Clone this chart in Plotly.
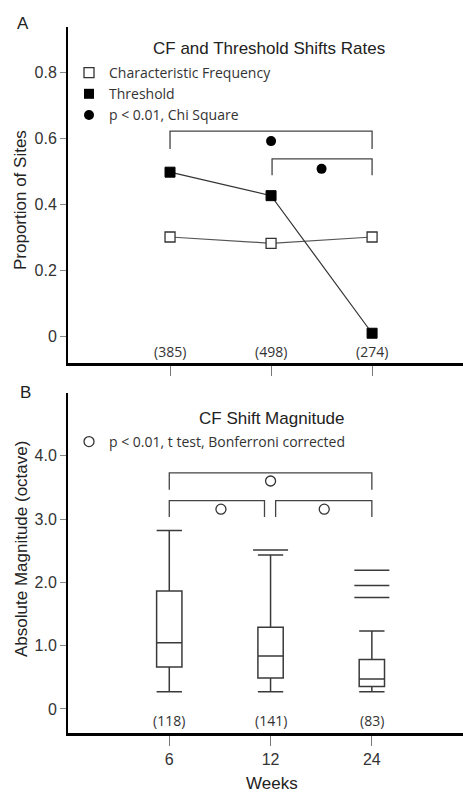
import plotly.graph_objects as go

# ---------------- data ----------------
weeks = ["6", "12", "24"]
xpos = [0, 1, 2]

# Panel A: proportion of sites
cf_rate = [0.302, 0.283, 0.302]
threshold_rate = [0.498, 0.427, 0.011]
counts_a = ["(385)", "(498)", "(274)"]

# significance brackets panel A: (x_left, x_right, y_top, y_leg_bottom)
brackets_a = [(0.0, 2.0, 0.622, 0.568), (1.01, 2.0, 0.538, 0.489)]
sig_dots_a_x = [1.0, 1.5]
sig_dots_a_y = [0.592, 0.508]

# Panel B: CF shift magnitude box stats
q1 = [0.663, 0.49, 0.353]
median = [1.047, 0.837, 0.474]
q3 = [1.864, 1.29, 0.78]
lowerfence = [0.273, 0.273, 0.273]
upperfence = [2.817, 2.43, 1.23]
outlier_x = [1, 2, 2, 2]
outlier_y = [2.51, 2.19, 1.95, 1.76]
counts_b = ["(118)", "(141)", "(83)"]

brackets_b = [(0.0, 2.0, 3.73, 3.46), (0.0, 0.94, 3.29, 3.03), (1.05, 2.0, 3.29, 3.03)]
sig_circ_b_x = [1.0, 0.51, 1.53]
sig_circ_b_y = [3.60, 3.155, 3.155]

# ---------------- styling ----------------
W, H = 463, 792
SANS = "Liberation Sans, Arial, sans-serif"
HUM = "Open Sans, sans-serif"
DARK = "#333333"

def py(p):
    return 1 - p / H

def px(p):
    return p / W

fig = go.Figure()

# ---- Panel A traces ----
fig.add_trace(go.Scatter(
    x=xpos, y=cf_rate, mode="lines+markers", xaxis="x", yaxis="y",
    line=dict(color="#555555", width=1.2),
    marker=dict(symbol="square", size=10, color="white", line=dict(color=DARK, width=1.3)),
    showlegend=False))
fig.add_trace(go.Scatter(
    x=xpos, y=threshold_rate, mode="lines+markers", xaxis="x", yaxis="y",
    line=dict(color="#333333", width=1.2),
    marker=dict(symbol="square", size=10, color="black", line=dict(color="black", width=1)),
    showlegend=False))

for (xl, xr, yt, yb) in brackets_a:
    fig.add_trace(go.Scatter(
        x=[xl, xl, xr, xr], y=[yb, yt, yt, yb], mode="lines", xaxis="x", yaxis="y",
        line=dict(color="#444444", width=1.3), showlegend=False, hoverinfo="skip"))
fig.add_trace(go.Scatter(
    x=sig_dots_a_x, y=sig_dots_a_y, mode="markers", xaxis="x", yaxis="y",
    marker=dict(symbol="circle", size=10, color="black"), showlegend=False))

# legend entries A
fig.add_trace(go.Scatter(x=[None], y=[None], mode="markers", xaxis="x", yaxis="y",
    name="Characteristic Frequency", legend="legend",
    marker=dict(symbol="square", size=10, color="white", line=dict(color=DARK, width=1.3))))
fig.add_trace(go.Scatter(x=[None], y=[None], mode="markers", xaxis="x", yaxis="y",
    name="Threshold", legend="legend",
    marker=dict(symbol="square", size=10, color="black")))
fig.add_trace(go.Scatter(x=[None], y=[None], mode="markers", xaxis="x", yaxis="y",
    name="p < 0.01, Chi Square", legend="legend",
    marker=dict(symbol="circle", size=10, color="black")))

# ---- Panel B traces ----
fig.add_trace(go.Box(
    x=xpos, q1=q1, median=median, q3=q3, lowerfence=lowerfence, upperfence=upperfence,
    xaxis="x2", yaxis="y2", width=0.25, whiskerwidth=1, fillcolor="white",
    line=dict(color="#3a3a3a", width=1.5), boxpoints=False, showlegend=False))
fig.add_trace(go.Scatter(
    x=outlier_x, y=outlier_y, mode="markers", xaxis="x2", yaxis="y2",
    marker=dict(symbol="line-ew", size=25, line=dict(color="#3a3a3a", width=1.5)),
    showlegend=False))

for (xl, xr, yt, yb) in brackets_b:
    fig.add_trace(go.Scatter(
        x=[xl, xl, xr, xr], y=[yb, yt, yt, yb], mode="lines", xaxis="x2", yaxis="y2",
        line=dict(color="#444444", width=1.3), showlegend=False, hoverinfo="skip"))
fig.add_trace(go.Scatter(
    x=sig_circ_b_x, y=sig_circ_b_y, mode="markers", xaxis="x2", yaxis="y2",
    marker=dict(symbol="circle-open", size=10, color="#333333", line=dict(width=1.3)),
    showlegend=False))

fig.add_trace(go.Scatter(x=[None], y=[None], mode="markers", xaxis="x2", yaxis="y2",
    name="p < 0.01, t test, Bonferroni corrected", legend="legend2",
    marker=dict(symbol="circle-open", size=10, color="#333333", line=dict(width=1.3))))

# ---------------- axes ----------------
axis_common = dict(showgrid=False, zeroline=False, showline=True, linecolor="black")

fig.update_layout(
    width=W, height=H, margin=dict(l=0, r=0, t=0, b=0),
    paper_bgcolor="white", plot_bgcolor="white",
    font=dict(family=SANS, color="#222222"),
    xaxis=dict(**axis_common, domain=[px(68), 1.0], range=[-1.01, 2.9], anchor="y",
               linewidth=2.5, tickvals=xpos, ticktext=weeks, showticklabels=False,
               ticks="outside", ticklen=10, tickcolor="#777777", tickwidth=1),
    yaxis=dict(**axis_common, domain=[py(363), py(27)], range=[-0.079, 0.937], anchor="x",
               linewidth=2, tickvals=[0, 0.2, 0.4, 0.6, 0.8],
               ticktext=["0", "0.2", "0.4", "0.6", "0.8"],
               ticks="outside", ticklen=6, tickcolor="#888888", tickwidth=1,
               tickfont=dict(family=SANS, size=16, color="#333333")),
    xaxis2=dict(**axis_common, domain=[px(68), 1.0], range=[-1.0, 2.9], anchor="y2",
                linewidth=2.5, tickvals=xpos, ticktext=weeks, showticklabels=True,
                ticks="outside", ticklen=10, tickcolor="#777777", tickwidth=1,
                tickfont=dict(family=SANS, size=16, color="#333333")),
    yaxis2=dict(**axis_common, domain=[py(733), py(393)], range=[-0.38, 4.99], anchor="x2",
                linewidth=2, tickvals=[0, 1, 2, 3, 4],
                ticktext=["0", "1.0", "2.0", "3.0", "4.0"],
                ticks="outside", ticklen=6, tickcolor="#888888", tickwidth=1,
                tickfont=dict(family=SANS, size=16, color="#333333")),
    legend=dict(x=px(69), y=py(57), xanchor="left", yanchor="top",
                bgcolor="rgba(0,0,0,0)", borderwidth=0, tracegroupgap=0,
                font=dict(family=HUM, size=14, color="#333333")),
    legend2=dict(x=px(69), y=py(426), xanchor="left", yanchor="top",
                 bgcolor="rgba(0,0,0,0)", borderwidth=0,
                 font=dict(family=HUM, size=14, color="#333333")),
)

def pa(text, x, y, size=17, angle=0, family=SANS):
    return dict(text=text, x=px(x), y=py(y), xref="paper", yref="paper", showarrow=False,
                xanchor="center", yanchor="middle", textangle=angle,
                font=dict(family=family, size=size, color="#222222"))

annotations = [
    pa("A", 23, 23, 17),
    pa("B", 25, 392, 17),
    pa("CF and Threshold Shifts Rates", 269, 49),
    pa("CF Shift Magnitude", 272, 418),
    pa("Proportion of Sites", 20, 200, angle=-90),
    pa("Absolute Magnitude (octave)", 21, 549, angle=-90),
    pa("Weeks", 272, 783),
]
for xi, c in zip(xpos, counts_a):
    annotations.append(dict(text=c, x=xi, y=-0.045, xref="x", yref="y", showarrow=False,
                            xanchor="center", yanchor="middle",
                            font=dict(family=HUM, size=14, color="#333333")))
for xi, c in zip(xpos, counts_b):
    annotations.append(dict(text=c, x=xi, y=-0.19, xref="x2", yref="y2", showarrow=False,
                            xanchor="center", yanchor="middle",
                            font=dict(family=HUM, size=14, color="#333333")))
fig.update_layout(annotations=annotations)

fig.write_html("out.html")
